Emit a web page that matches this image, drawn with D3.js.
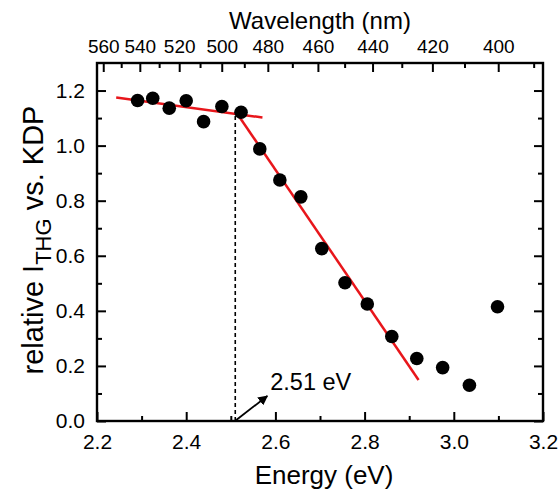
<!DOCTYPE html>
<html><head><meta charset="utf-8">
<script src="https://cdn.jsdelivr.net/npm/d3@7"></script>
<style>
html,body{margin:0;padding:0;background:#fff;}
text{font-family:"Liberation Sans",Arial,sans-serif;fill:#000;}
</style></head>
<body>
<svg id="c" width="560" height="491"></svg>
<script>
// Data
const energy = [2.291,2.325,2.362,2.400,2.439,2.480,2.523,2.565,2.610,2.657,2.704,2.756,2.806,2.861,2.917,2.975,3.035,3.098];
const relTHG = [1.164,1.172,1.136,1.163,1.087,1.142,1.121,0.988,0.875,0.814,0.626,0.502,0.425,0.307,0.227,0.194,0.130,0.415];
const fitFlatE = [2.243,2.571];
const fitFlatY = [1.175,1.102];
const fitSlopeE = [2.511,2.921];
const fitSlopeY = [1.124,0.149];
const bandgapE = 2.51;
const bandgapLabel = "2.51 eV";
const energyTicks = [2.2,2.4,2.6,2.8,3.0,3.2];
const yTicks = [0.0,0.2,0.4,0.6,0.8,1.0,1.2];
const wlMajor = [560,540,520,500,480,460,440,420,400];
const wlMinor = [550,530,510,490,470,450,430,410,390];

const W = 560, H = 491;
const m = {l:97, r:17, t:63, b:70};
const svg = d3.select("#c");
const x = d3.scaleLinear().domain([2.2,3.2]).range([m.l, W-m.r]);
const y = d3.scaleLinear().domain([0,1.3]).range([H-m.b, m.t]);
const hc = 1239.84;

const g = svg.append("g");
const L = x.range(), B = y.range();

const xMinor = d3.range(2.3,3.2,0.2).map(v=>+v.toFixed(2));
const yMinor = d3.range(0.1,1.3,0.2).map(v=>+v.toFixed(2));
const MAJ = -9, MIN = -5;

const bAx = g.append("g").attr("transform",`translate(0,${B[0]})`)
  .call(d3.axisBottom(x).tickValues(energyTicks).tickFormat(d3.format(".1f")).tickSize(MAJ).tickPadding(13));
g.append("g").attr("transform",`translate(0,${B[0]})`)
  .call(d3.axisBottom(x).tickValues(xMinor).tickFormat("").tickSize(MIN));
const tAx = g.append("g").attr("transform",`translate(0,${B[1]})`)
  .call(d3.axisTop(x).tickValues(wlMajor.map(w=>hc/w)).tickFormat((d,i)=>wlMajor[i]).tickSize(MAJ).tickPadding(10));
g.append("g").attr("transform",`translate(0,${B[1]})`)
  .call(d3.axisTop(x).tickValues(wlMinor.map(w=>hc/w)).tickFormat("").tickSize(MIN));
const lAx = g.append("g").attr("transform",`translate(${L[0]},0)`)
  .call(d3.axisLeft(y).tickValues(yTicks).tickFormat(d3.format(".1f")).tickSize(MAJ).tickPadding(12));
g.append("g").attr("transform",`translate(${L[0]},0)`)
  .call(d3.axisLeft(y).tickValues(yMinor).tickFormat("").tickSize(MIN));
g.append("g").attr("transform",`translate(${L[1]},0)`)
  .call(d3.axisRight(y).tickValues(yTicks).tickFormat("").tickSize(MAJ));
g.append("g").attr("transform",`translate(${L[1]},0)`)
  .call(d3.axisRight(y).tickValues(yMinor).tickFormat("").tickSize(MIN));

svg.selectAll(".domain").remove();
svg.selectAll(".tick line").attr("stroke","#000").attr("stroke-width",2);
svg.selectAll(".tick text").attr("fill","#000");
bAx.selectAll(".tick text").style("font-size","21px");
lAx.selectAll(".tick text").style("font-size","21px");
tAx.selectAll(".tick text").style("font-size","19px");

g.append("rect").attr("x",L[0]).attr("y",B[1]).attr("width",L[1]-L[0]).attr("height",B[0]-B[1])
  .attr("fill","none").attr("stroke","#000").attr("stroke-width",2.4);

g.append("line").attr("x1",x(bandgapE)).attr("x2",x(bandgapE))
  .attr("y1",y(0)).attr("y2",y(fitSlopeY[0]))
  .attr("stroke","#000").attr("stroke-width",1.6).attr("stroke-dasharray","4,3");

const line = d3.line().x(d=>x(d[0])).y(d=>y(d[1]));
g.append("path").attr("d",line(d3.zip(fitFlatE,fitFlatY))).attr("stroke","#e8161b").attr("stroke-width",2.5).attr("fill","none");
g.append("path").attr("d",line(d3.zip(fitSlopeE,fitSlopeY))).attr("stroke","#e8161b").attr("stroke-width",2.5).attr("fill","none");

g.selectAll("circle.pt").data(d3.zip(energy,relTHG)).join("circle").attr("class","pt")
  .attr("cx",d=>x(d[0])).attr("cy",d=>y(d[1])).attr("r",6.8).attr("fill","#000");

svg.append("defs").append("marker").attr("id","ah").attr("viewBox","0 0 10 10")
  .attr("refX",9).attr("refY",5).attr("markerWidth",5.5).attr("markerHeight",5.5).attr("orient","auto")
  .append("path").attr("d","M0,0 L10,5 L0,10 z").attr("fill","#000");
g.append("line").attr("x1",x(bandgapE)+1).attr("y1",y(0)-1).attr("x2",x(bandgapE)+32).attr("y2",y(0)-25)
  .attr("stroke","#000").attr("stroke-width",1.8).attr("marker-end","url(#ah)");
g.append("text").attr("x",x(bandgapE)+35).attr("y",y(0)-31).style("font-size","23.5px").text(bandgapLabel);

svg.append("text").attr("x",(L[0]+L[1])/2 + 4).attr("y",484).attr("text-anchor","middle")
  .style("font-size","26px").text("Energy (eV)");
svg.append("text").attr("x",(L[0]+L[1])/2).attr("y",29).attr("text-anchor","middle")
  .style("font-size","24px").text("Wavelength (nm)");
const yt = svg.append("text").attr("transform",`translate(43,${(B[0]+B[1])/2 - 2}) rotate(-90)`)
  .attr("text-anchor","middle").style("font-size","29px");
yt.append("tspan").text("relative I");
yt.append("tspan").attr("dy",8).style("font-size","22px").text("THG");
yt.append("tspan").attr("dy",-8).text(" vs. KDP");
</script>
</body></html>
